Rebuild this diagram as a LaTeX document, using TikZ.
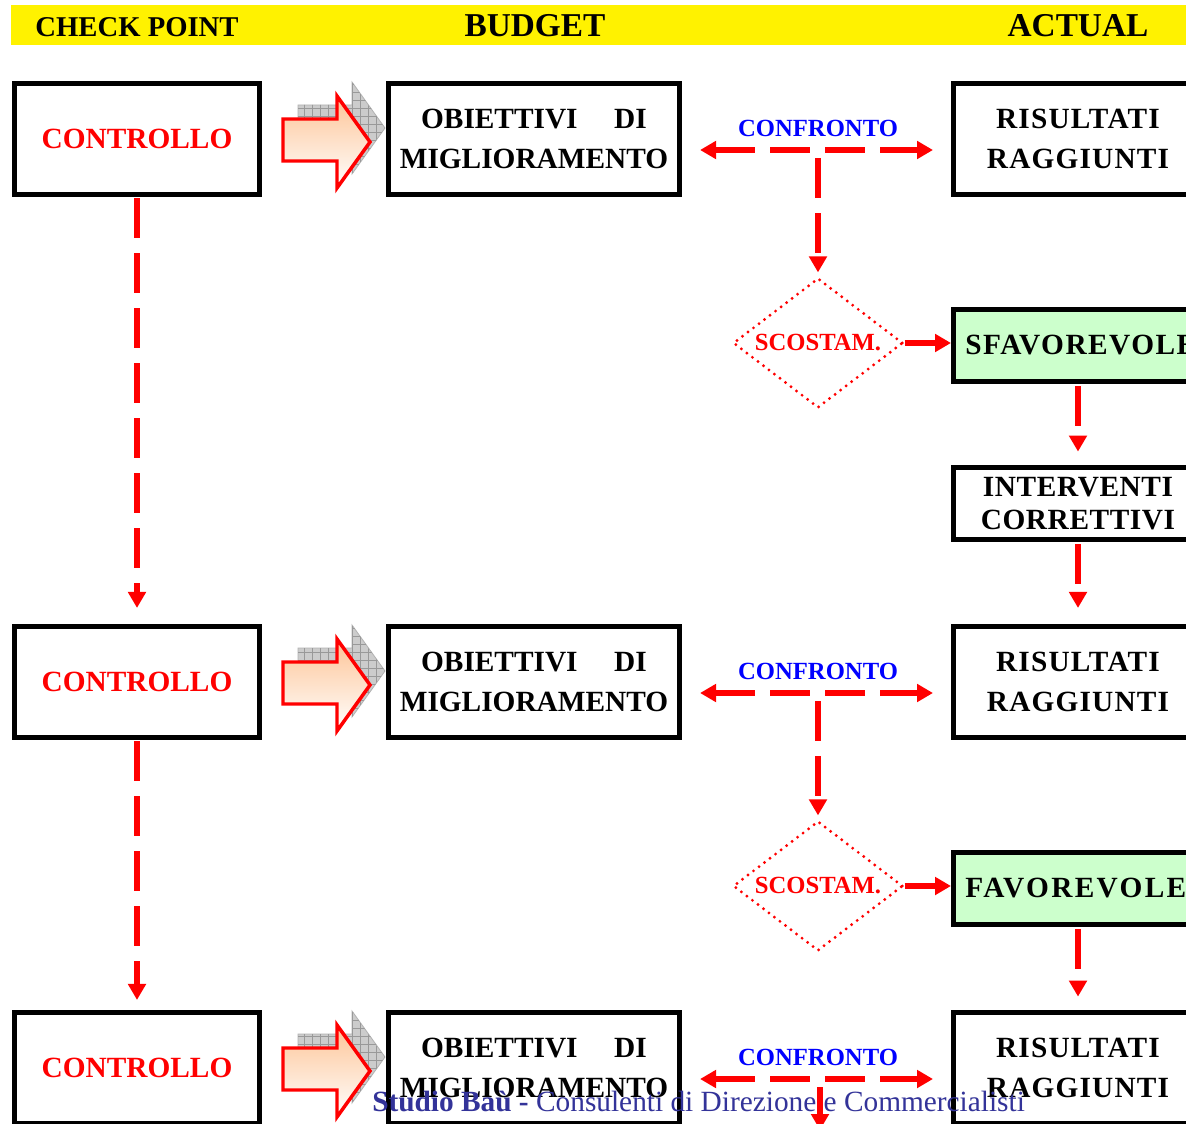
\documentclass[tikz,border=0pt]{standalone}
\usepackage{fontspec}
\setmainfont{Liberation Serif}
\usetikzlibrary{shapes.geometric,arrows.meta,patterns.meta}
\definecolor{peach}{RGB}{253,196,150}
\definecolor{mint}{RGB}{204,255,204}
\definecolor{footblue}{RGB}{51,51,153}
\begin{document}
\begin{tikzpicture}[x=0.75pt,y=-0.75pt,
  >={Triangle[width=13pt,length=12pt]},
  box/.style={draw,line width=3.5pt,rectangle,inner sep=0pt,font=\fontsize{22}{30}\selectfont\bfseries,align=center},
  ctrl/.style={box,minimum width=184pt,minimum height=83.6pt,text=red},
  obj/.style={box,minimum width=218.6pt,minimum height=83.6pt},
  res/.style={box,minimum width=187pt,minimum height=83.6pt,font=\fontsize{22}{30}\selectfont\bfseries\addfontfeature{LetterSpace=4}},
  smallbox/.style={box,minimum width=187pt,minimum height=54.4pt},
  favbox/.style={smallbox,fill=mint,inner xsep=9pt,text width=169pt,align=left,font=\fontsize{22}{30}\selectfont\bfseries\addfontfeature{LetterSpace=#1}},
  lab/.style={font=\fontsize{18.5}{20}\selectfont\bfseries},
  rdash/.style={draw=red,line width=4.2pt,dash pattern=on 30pt off 11.25pt},
  rsolid/.style={draw=red,line width=4pt},
  diam/.style={diamond,draw=red,line width=2.4pt,dash pattern=on 0pt off 5.2pt,line cap=round,aspect=1.3,minimum width=127.5pt,minimum height=97.5pt,inner sep=0pt,text=red,lab},
  blockarr/.pic={
    \draw[gray!60,line width=0.6pt,fill=gray!40,
      postaction={pattern={Lines[angle=0,distance=6pt,line width=0.5pt]},pattern color=gray!80},
      postaction={pattern={Lines[angle=90,distance=6pt,line width=0.5pt]},pattern color=gray!80}]
      (15,24) -- (69,24) -- (69,1) -- (102,47) -- (69,93) -- (69,66) -- (15,66) -- cycle;
    \draw[red,line width=2.6pt,line join=miter,top color=peach,bottom color=white]
      (0,38) -- (54,38) -- (54,15) -- (87,61) -- (54,107) -- (54,80) -- (0,80) -- cycle;
  }
]
\useasboundingbox (0,0) rectangle (1186,1124);
\clip (0,0) rectangle (1186,1124);
\fill[white] (0,0) rectangle (1186,1124);

% header band
\fill[yellow] (11,5) rectangle (1186,45);
\node[anchor=base,inner sep=0pt,font=\fontsize{21.5}{24}\selectfont\bfseries] (hcp) at (137,37) {CHECK POINT};
\node[anchor=base,inner sep=0pt,font=\fontsize{25}{28}\selectfont\bfseries] (hbud) at (535,37) {BUDGET};
\node[anchor=base,inner sep=0pt,font=\fontsize{25}{28}\selectfont\bfseries] (hact) at (1078,37) {ACTUAL};

% row 1
\node[ctrl] (ctrlA) at (137,139) {CONTROLLO};
\pic at (283,81) {blockarr};
\node[obj] (objA) at (534,139) {OBIETTIVI\hspace{1.25em}DI\\MIGLIORAMENTO};
\node[res] (resA) at (1078,139) {RISULTATI\\RAGGIUNTI};
\node[lab,text=blue] (confA) at (818,128) {CONFRONTO};
\coordinate (jA) at (818,150);
\node[diam] (dA) at (818,343) {\raisebox{-2pt}{SCOSTAM.}};
\node[favbox=5] (sfav) at (1078,345.5) {SFAVOREVOLE};
\node[smallbox,font=\fontsize{22}{24.75}\selectfont\bfseries\addfontfeature{LetterSpace=2}] (interv) at (1078,503.5) {INTERVENTI\\CORRETTIVI};

% row 2
\node[ctrl] (ctrlB) at (137,682) {CONTROLLO};
\pic at (283,624) {blockarr};
\node[obj] (objB) at (534,682) {OBIETTIVI\hspace{1.25em}DI\\MIGLIORAMENTO};
\node[res] (resB) at (1078,682) {RISULTATI\\RAGGIUNTI};
\node[lab,text=blue] (confB) at (818,671) {CONFRONTO};
\coordinate (jB) at (818,693);
\node[diam] (dB) at (818,886) {\raisebox{-2pt}{SCOSTAM.}};
\node[favbox=8] (fav) at (1078,888.5) {FAVOREVOLE};

% row 3
\node[ctrl] (ctrlC) at (137,1068) {CONTROLLO};
\pic at (283,1010) {blockarr};
\node[obj] (objC) at (534,1068) {OBIETTIVI\hspace{1.25em}DI\\MIGLIORAMENTO};
\node[res] (resC) at (1078,1068) {RISULTATI\\RAGGIUNTI};
\node[lab,text=blue] (confC) at (818,1057) {CONFRONTO};
\coordinate (jC) at (820,1079);
\coordinate (endC) at (820,1130);

% connectors row 1
\draw[rdash,<->,shorten <=13.5pt,shorten >=13.5pt] ([yshift=-8.25pt]objA.east) -- ([yshift=-8.25pt]resA.west);
\draw[rdash,->,shorten >=3pt] ([yshift=-6pt]jA) -- (dA.north);
\draw[rsolid,->] (dA.east) -- (dA.east -| sfav.west);
\draw[rdash,->,shorten <=1.5pt,shorten >=10pt] (sfav.south) -- (interv.north);
\draw[rdash,->,shorten <=1.5pt,shorten >=12pt] (interv.south) -- (resB.north);
\draw[rdash,->,shorten <=1pt,shorten >=12pt] (ctrlA.south) -- (ctrlB.north);

% connectors row 2
\draw[rdash,<->,shorten <=13.5pt,shorten >=13.5pt] ([yshift=-8.25pt]objB.east) -- ([yshift=-8.25pt]resB.west);
\draw[rdash,->,shorten >=3pt] ([yshift=-6pt]jB) -- (dB.north);
\draw[rsolid,->] (dB.east) -- (dB.east -| fav.west);
\draw[rdash,->,shorten <=1.5pt,shorten >=10pt] (fav.south) -- (resC.north);
\draw[rdash,->,shorten <=1pt,shorten >=7.5pt] (ctrlB.south) -- (ctrlC.north);

% connectors row 3
\draw[rdash,<->,shorten <=13.5pt,shorten >=13.5pt] ([yshift=-8.25pt]objC.east) -- ([yshift=-8.25pt]resC.west);
\draw[rdash,->] ([yshift=-6pt]jC) -- (endC);

% footer
\node[anchor=base west,inner sep=0pt,text=footblue,font=\fontsize{22}{26}\selectfont] (foot) at (372,1111) {\textbf{Studio Baù -} Consulenti di Direzione e Commercialisti};
\end{tikzpicture}
\end{document}
